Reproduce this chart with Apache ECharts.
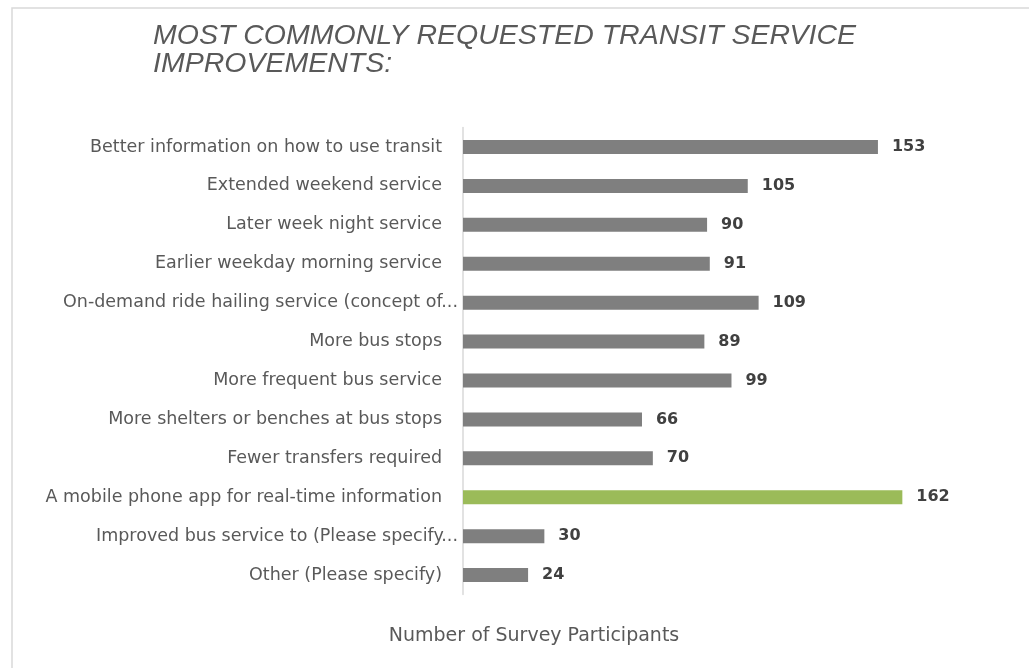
<!DOCTYPE html>
<html>
<head>
<meta charset="utf-8">
<title>Most Commonly Requested Transit Service Improvements</title>
<script src="https://cdn.jsdelivr.net/npm/echarts@6/dist/echarts.min.js"></script>
<style>
  html, body { margin: 0; padding: 0; background: #ffffff; }
  #chart { width: 1029px; height: 668px; }
</style>
</head>
<body>
<div id="chart"></div>
<script>
// Survey responses, listed top to bottom
const categories = [
  'Better information on how to use transit',
  'Extended weekend service',
  'Later week night service',
  'Earlier weekday morning service',
  'On-demand ride hailing service (concept of...',
  'More bus stops',
  'More frequent bus service',
  'More shelters or benches at bus stops',
  'Fewer transfers required',
  'A mobile phone app for real-time information',
  'Improved bus service to (Please specify...',
  'Other (Please specify)'
];
const participants = [153, 105, 90, 91, 109, 89, 99, 66, 70, 162, 30, 24];
const highlighted = 'A mobile phone app for real-time information';

const titleText = 'MOST COMMONLY REQUESTED TRANSIT SERVICE\nIMPROVEMENTS:';
const axisTitle = 'Number of Survey Participants';

const GRAY = '#7f7f7f';
const GREEN = '#9bbb59';
const LABEL_FONT = '"DejaVu Sans", "Open Sans", sans-serif';
const truncated = new Set(categories.filter(c => c.endsWith('...')));

const chart = echarts.init(document.getElementById('chart'), null, { renderer: 'canvas' });

chart.setOption({
  backgroundColor: '#ffffff',
  animation: false,
  title: [
    {
      text: titleText,
      left: 148,
      top: 17,
      textStyle: {
        fontFamily: '"Liberation Sans", Arial, sans-serif',
        fontStyle: 'italic',
        fontWeight: 'normal',
        fontSize: 28.5,
        lineHeight: 28,
        color: '#595959'
      }
    },
    {
      text: axisTitle,
      left: 529,
      textAlign: 'center',
      top: 622,
      textStyle: {
        fontFamily: LABEL_FONT,
        fontWeight: 'normal',
        fontSize: 19,
        color: '#595959'
      }
    }
  ],
  graphic: [
    {
      type: 'rect',
      silent: true,
      shape: { x: 12, y: 8, width: 1200, height: 1000 },
      style: { fill: 'none', stroke: '#d9d9d9', lineWidth: 1.5 }
    }
  ],
  grid: {
    left: 463,
    right: 23.6,
    top: 127.5,
    bottom: 73.5,
    containLabel: false
  },
  xAxis: {
    type: 'value',
    min: 0,
    max: 200,
    show: false
  },
  yAxis: {
    type: 'category',
    data: categories,
    inverse: true,
    axisLine: { show: true, lineStyle: { color: '#d9d9d9', width: 1.5 } },
    axisTick: { show: false },
    splitLine: { show: false },
    axisLabel: {
      margin: 5,
      fontFamily: LABEL_FONT,
      fontSize: 17.5,
      color: '#595959',
      formatter: v => truncated.has(v) ? '{t|' + v + '}' : '{n|' + v + '}',
      rich: {
        t: { fontFamily: LABEL_FONT, fontSize: 17.5, color: '#595959', padding: [0, 0, 0, 0] },
        n: { fontFamily: LABEL_FONT, fontSize: 17.5, color: '#595959', padding: [0, 16, 0, 0] }
      }
    }
  },
  series: [
    {
      type: 'bar',
      barWidth: 14,
      data: participants.map((v, i) => ({
        value: v,
        itemStyle: { color: categories[i] === highlighted ? GREEN : GRAY }
      })),
      label: {
        show: true,
        position: 'right',
        distance: 14,
        fontFamily: LABEL_FONT,
        fontWeight: 'bold',
        fontSize: 16,
        color: '#404040'
      }
    }
  ]
});
</script>
</body>
</html>
